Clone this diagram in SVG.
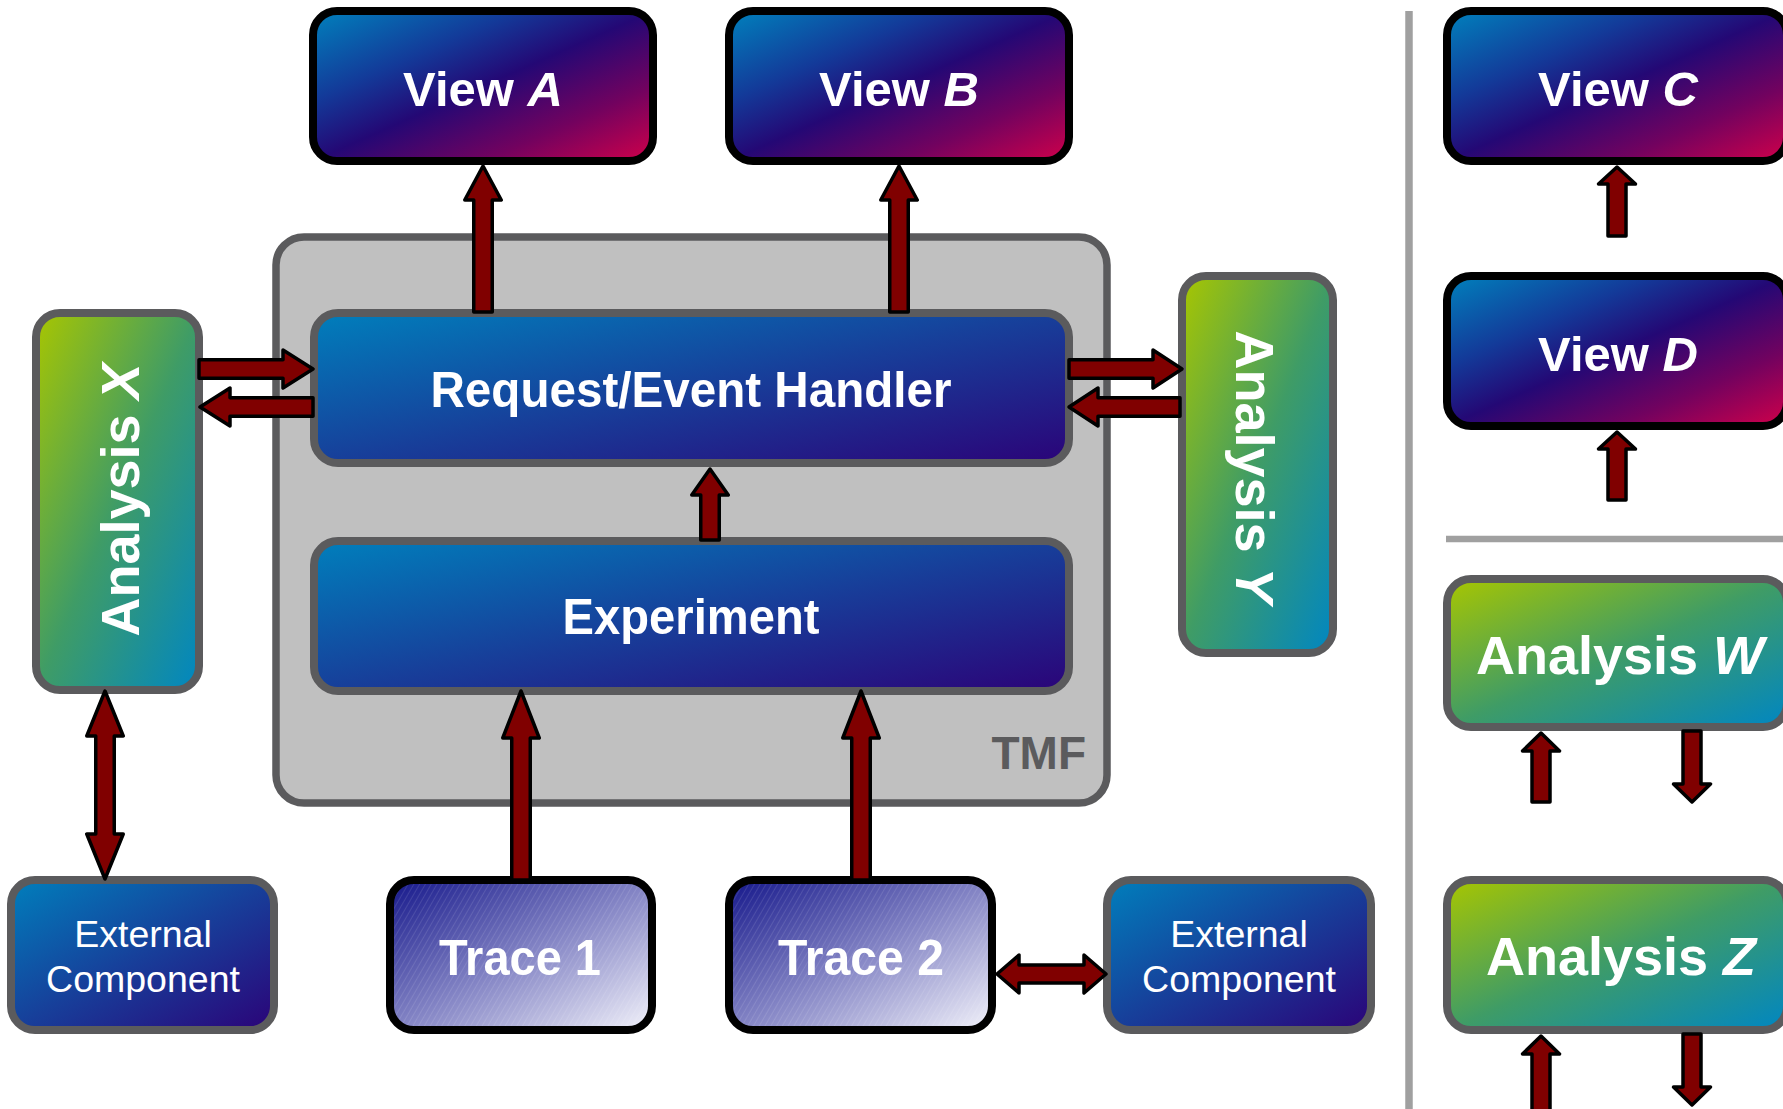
<svg xmlns="http://www.w3.org/2000/svg" width="1783" height="1109" viewBox="0 0 1783 1109">
<defs>
<linearGradient id="gView" x1="0" y1="0" x2="1" y2="1">
<stop offset="0" stop-color="#0082bd"/>
<stop offset="0.3" stop-color="#133a99"/>
<stop offset="0.5" stop-color="#240875"/>
<stop offset="0.75" stop-color="#72025f"/>
<stop offset="1" stop-color="#d1004a"/>
</linearGradient>
<linearGradient id="gBlue" x1="0" y1="0" x2="1" y2="1">
<stop offset="0" stop-color="#007fbc"/>
<stop offset="0.5" stop-color="#173f9a"/>
<stop offset="1" stop-color="#2b0378"/>
</linearGradient>
<linearGradient id="gGreen" x1="0" y1="0" x2="1" y2="1">
<stop offset="0" stop-color="#a8c600"/>
<stop offset="0.5" stop-color="#3f9c66"/>
<stop offset="1" stop-color="#0086c2"/>
</linearGradient>
<linearGradient id="gTrace" x1="0" y1="0" x2="1" y2="1">
<stop offset="0" stop-color="#14168a"/>
<stop offset="0.5" stop-color="#8283c4"/>
<stop offset="1" stop-color="#f2f2fa"/>
</linearGradient>
<pattern id="hatch" patternUnits="userSpaceOnUse" width="5" height="5" patternTransform="rotate(30)">
<line x1="0" y1="0" x2="0" y2="5" stroke="#ffffff" stroke-opacity="0.22" stroke-width="1"/>
</pattern>
</defs>
<style>
.view { fill:url(#gView); stroke:#000; stroke-width:8; }
.blue { fill:url(#gBlue); stroke:#5b5b5d; stroke-width:8; }
.green { fill:url(#gGreen); stroke:#5b5b5d; stroke-width:8; }
.trace { fill:url(#gTrace); }
.traceh { fill:url(#hatch); stroke:#000; stroke-width:8; }
.tmf { fill:#c0c0c0; stroke:#5b5b5d; stroke-width:7.5; }
.lbl { font-family:"Liberation Sans", Arial, sans-serif; font-weight:bold; fill:#fff; text-anchor:middle; }
.big { font-size:49px; }
.ana { font-size:54px; }
.ext { font-family:"Liberation Sans", Arial, sans-serif; font-size:37.5px; fill:#fff; text-anchor:middle; }
.it { font-style:italic; }
.arrow { fill:#800000; stroke:#000; stroke-width:3.5; stroke-linejoin:round; }
.div { stroke:#a0a0a0; fill:none; }
</style>
<rect width="1783" height="1109" fill="#ffffff"/>

<g id="tmf-container">
<rect class="tmf" x="276" y="237" width="831" height="566" rx="28"/>
<text x="1086" y="769" font-family="Liberation Sans, Arial, sans-serif" font-weight="bold" font-size="46" fill="#5b5b5d" text-anchor="end">TMF</text>
</g>

<g id="view-a">
<rect class="view" x="313" y="11" width="340" height="150" rx="24"/>
<text class="lbl big" x="483" y="106">View <tspan class="it">A</tspan></text>
</g>
<g id="view-b">
<rect class="view" x="729" y="11" width="340" height="150" rx="24"/>
<text class="lbl big" x="899" y="106">View <tspan class="it">B</tspan></text>
</g>
<g id="handler">
<rect class="blue" x="314" y="313" width="755" height="150" rx="24"/>
<text class="lbl" x="691" y="407" font-size="50" textLength="521" lengthAdjust="spacingAndGlyphs">Request/Event Handler</text>
</g>
<g id="experiment">
<rect class="blue" x="314" y="541" width="755" height="150" rx="24"/>
<text class="lbl" x="691" y="634" font-size="50" textLength="257" lengthAdjust="spacingAndGlyphs">Experiment</text>
</g>
<g id="analysis-x">
<rect class="green" x="36" y="313" width="163" height="377" rx="24"/>
<text class="lbl ana" transform="translate(139,500) rotate(-90)" x="0" y="0">Analysis <tspan class="it">X</tspan></text>
</g>
<g id="analysis-y">
<rect class="green" x="1182" y="276" width="151" height="377" rx="24"/>
<text class="lbl ana" transform="translate(1236,467) rotate(90)" x="0" y="0">Analysis <tspan class="it">Y</tspan></text>
</g>
<g id="external-left">
<rect class="blue" x="11" y="880" width="263" height="150" rx="24"/>
<text class="ext" x="143" y="947">External</text>
<text class="ext" x="143" y="992">Component</text>
</g>
<g id="trace-1">
<rect class="trace" x="390" y="880" width="262" height="150" rx="24"/>
<rect class="traceh" x="390" y="880" width="262" height="150" rx="24"/>
<text class="lbl" x="520" y="975" font-size="50" textLength="162" lengthAdjust="spacingAndGlyphs">Trace 1</text>
</g>
<g id="trace-2">
<rect class="trace" x="729" y="880" width="263" height="150" rx="24"/>
<rect class="traceh" x="729" y="880" width="263" height="150" rx="24"/>
<text class="lbl" x="861" y="975" font-size="50" textLength="166" lengthAdjust="spacingAndGlyphs">Trace 2</text>
</g>
<g id="external-right">
<rect class="blue" x="1107" y="880" width="264" height="150" rx="24"/>
<text class="ext" x="1239" y="947">External</text>
<text class="ext" x="1239" y="992">Component</text>
</g>

<g id="view-c">
<rect class="view" x="1447" y="11" width="340" height="150" rx="24"/>
<text class="lbl big" x="1618" y="106">View <tspan class="it">C</tspan></text>
</g>
<g id="view-d">
<rect class="view" x="1447" y="276" width="340" height="150" rx="24"/>
<text class="lbl big" x="1618" y="371">View <tspan class="it">D</tspan></text>
</g>
<g id="analysis-w">
<rect class="green" x="1447" y="579" width="340" height="148" rx="24"/>
<text class="lbl ana" x="1620" y="674">Analysis <tspan class="it">W</tspan></text>
</g>
<g id="analysis-z">
<rect class="green" x="1447" y="880" width="340" height="150" rx="24"/>
<text class="lbl ana" x="1621" y="975">Analysis <tspan class="it">Z</tspan></text>
</g>

<g id="dividers">
<line class="div" x1="1409" y1="11" x2="1409" y2="1109" stroke-width="7.5"/>
<line class="div" x1="1446" y1="539" x2="1783" y2="539" stroke-width="6.5"/>
</g>

<g id="connectors">
<path class="arrow" d="M483 166 L501.25 200 L492.25 200 L492.25 312 L473.75 312 L473.75 200 L464.75 200 Z"/>
<path class="arrow" d="M899 166 L917.25 200 L908.25 200 L908.25 312 L889.75 312 L889.75 200 L880.75 200 Z"/>
<path class="arrow" d="M710 469 L728.25 495 L719.25 495 L719.25 540 L700.75 540 L700.75 495 L691.75 495 Z"/>
<path class="arrow" d="M521 691 L539.25 738 L530.25 738 L530.25 880 L511.75 880 L511.75 738 L502.75 738 Z"/>
<path class="arrow" d="M861 691 L879.25 738 L870.25 738 L870.25 880 L851.75 880 L851.75 738 L842.75 738 Z"/>
<path class="arrow" d="M313 369 L283 388 L283 378.25 L199 378.25 L199 359.75 L283 359.75 L283 350 Z"/>
<path class="arrow" d="M200 407 L230 388 L230 397.75 L313 397.75 L313 416.25 L230 416.25 L230 426 Z"/>
<path class="arrow" d="M1182 369 L1153 388 L1153 378.25 L1069 378.25 L1069 359.75 L1153 359.75 L1153 350 Z"/>
<path class="arrow" d="M1069 407 L1098 388 L1098 397.75 L1180 397.75 L1180 416.25 L1098 416.25 L1098 426 Z"/>
<path class="arrow" d="M105 691 L123.25 736 L114.25 736 L114.25 834 L123.25 834 L105 879 L86.75 834 L95.75 834 L95.75 736 L86.75 736 Z"/>
<path class="arrow" d="M997 974 L1019 955 L1019 965 L1084 965 L1084 955 L1106 974 L1084 993 L1084 983 L1019 983 L1019 993 Z"/>
<path class="arrow" d="M1617 167 L1635.5 184 L1626 184 L1626 236 L1608 236 L1608 184 L1598.5 184 Z"/>
<path class="arrow" d="M1617 432 L1635.5 449 L1626 449 L1626 500 L1608 500 L1608 449 L1598.5 449 Z"/>
<path class="arrow" d="M1541 733 L1559.5 751 L1550 751 L1550 802 L1532 802 L1532 751 L1522.5 751 Z"/>
<path class="arrow" d="M1692 802 L1710.5 784 L1701 784 L1701 731 L1683 731 L1683 784 L1673.5 784 Z"/>
<path class="arrow" d="M1541 1036 L1559.5 1054 L1550 1054 L1550 1115 L1532 1115 L1532 1054 L1522.5 1054 Z"/>
<path class="arrow" d="M1692 1105 L1710.5 1087 L1701 1087 L1701 1034 L1683 1034 L1683 1087 L1673.5 1087 Z"/>
</g>
</svg>
